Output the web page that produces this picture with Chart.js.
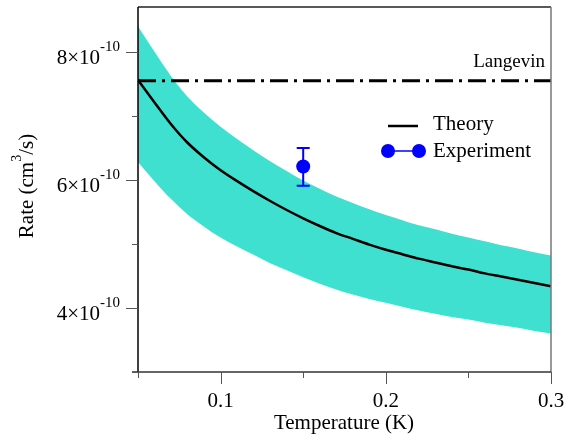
<!DOCTYPE html>
<html>
<head>
<meta charset="utf-8">
<script src="https://cdn.jsdelivr.net/npm/chart.js@4"></script>
<style>
  html, body { margin: 0; padding: 0; background: #fff; }
  canvas { display: block; }
</style>
</head>
<body>
<canvas id="rateChart" width="566" height="445"></canvas>
<script>
// Rate vs temperature, values in units of 1e-10 cm^3/s
const temps = [0.05, 0.06, 0.07, 0.08, 0.09, 0.10, 0.11, 0.12, 0.13, 0.14, 0.15, 0.16, 0.17,
               0.18, 0.19, 0.20, 0.21, 0.22, 0.23, 0.24, 0.25, 0.26, 0.27, 0.28, 0.29, 0.30];
const theory = [7.56, 7.21, 6.87, 6.58, 6.35, 6.15, 5.98, 5.82, 5.67, 5.53, 5.40, 5.28, 5.17,
                5.08, 4.99, 4.91, 4.84, 4.77, 4.71, 4.65, 4.60, 4.54, 4.49, 4.44, 4.39, 4.34];
const bandUpper = [8.40, 8.00, 7.62, 7.30, 7.05, 6.83, 6.64, 6.46, 6.29, 6.14, 5.99, 5.86, 5.74,
                   5.64, 5.54, 5.45, 5.37, 5.29, 5.23, 5.16, 5.10, 5.04, 4.98, 4.93, 4.87, 4.82];
const bandLower = [6.28, 5.98, 5.70, 5.46, 5.27, 5.10, 4.96, 4.83, 4.70, 4.59, 4.48, 4.38, 4.29,
                   4.21, 4.14, 4.08, 4.02, 3.96, 3.91, 3.86, 3.82, 3.77, 3.73, 3.69, 3.64, 3.60];
const langevin = 7.55;
const expTemp = [0.15];
const expRate = [6.21];
const expErrLow = [5.91];
const expErrHigh = [6.50];

const xMajorTicks = [0.1, 0.2, 0.3];
const xTickLabels = ['0.1', '0.2', '0.3'];
const xMinorTicks = [0.05, 0.15, 0.25];
const yMajorTicks = [4, 6, 8];
const yTickMantissa = ['4', '6', '8'];
const yMinorTicks = [3, 5, 7];

const serif = "'Liberation Serif', 'Times New Roman', serif";
const pts = (xs, ys) => xs.map((x, i) => ({ x: x, y: ys[i] }));

// axes, frame, labels, error bars and legend drawn by hand
const decor = {
    id: 'decor',
    afterDatasetsDraw(chart) {
        const ctx = chart.ctx;
        const xs = chart.scales.x, ys = chart.scales.y;

        // error bars
        ctx.save();
        ctx.strokeStyle = '#0000ff';
        ctx.lineWidth = 2;
        expTemp.forEach((t, i) => {
            const px = xs.getPixelForValue(t);
            const top = ys.getPixelForValue(expErrHigh[i]);
            const bot = ys.getPixelForValue(expErrLow[i]);
            ctx.beginPath();
            ctx.moveTo(px, top); ctx.lineTo(px, bot);
            ctx.moveTo(px - 6.5, top); ctx.lineTo(px + 6.5, top);
            ctx.moveTo(px - 6.5, bot); ctx.lineTo(px + 6.5, bot);
            ctx.stroke();
        });
        ctx.restore();
    },
    afterDraw(chart) {
        const ctx = chart.ctx;
        const xs = chart.scales.x, ys = chart.scales.y;
        const a = chart.chartArea;
        ctx.save();

        // frame
        ctx.lineWidth = 1.5;
        ctx.strokeStyle = '#222';
        ctx.beginPath();
        ctx.moveTo(a.left, a.top); ctx.lineTo(a.right, a.top);
        ctx.stroke();
        ctx.strokeStyle = '#777';
        ctx.beginPath();
        ctx.moveTo(a.right, a.top); ctx.lineTo(a.right, a.bottom);
        ctx.stroke();
        ctx.strokeStyle = '#000';
        ctx.beginPath();
        ctx.moveTo(a.left, a.top); ctx.lineTo(a.left, a.bottom);
        ctx.stroke();
        ctx.strokeStyle = '#333';
        ctx.beginPath();
        ctx.moveTo(a.left - 6, a.bottom); ctx.lineTo(a.right, a.bottom);
        ctx.stroke();

        // ticks
        ctx.lineWidth = 1;
        ctx.strokeStyle = '#555';
        ctx.beginPath();
        xMajorTicks.forEach(v => {
            const p = Math.round(xs.getPixelForValue(v)) + 0.5;
            ctx.moveTo(p, a.bottom); ctx.lineTo(p, a.bottom + 12);
        });
        xMinorTicks.forEach(v => {
            const p = Math.round(xs.getPixelForValue(v)) + 0.5;
            ctx.moveTo(p, a.bottom); ctx.lineTo(p, a.bottom + 6);
        });
        yMajorTicks.forEach(v => {
            const p = Math.round(ys.getPixelForValue(v)) + 0.5;
            ctx.moveTo(a.left, p); ctx.lineTo(a.left - 12, p);
        });
        yMinorTicks.forEach(v => {
            const p = Math.round(ys.getPixelForValue(v)) + 0.5;
            ctx.moveTo(a.left, p); ctx.lineTo(a.left - 6, p);
        });
        ctx.stroke();

        ctx.fillStyle = '#000';
        ctx.textBaseline = 'alphabetic';

        // x tick labels
        ctx.font = '21px ' + serif;
        ctx.textAlign = 'center';
        xMajorTicks.forEach((v, i) => {
            ctx.fillText(xTickLabels[i], xs.getPixelForValue(v), 407);
        });

        // y tick labels with exponent
        ctx.textAlign = 'left';
        yMajorTicks.forEach((v, i) => {
            const py = ys.getPixelForValue(v);
            const main = yTickMantissa[i] + '\u00d710';
            ctx.font = '21px ' + serif;
            const w1 = ctx.measureText(main).width;
            ctx.font = '15px ' + serif;
            const w2 = ctx.measureText('-10').width;
            const x0 = 120 - w1 - w2;
            ctx.font = '21px ' + serif;
            ctx.fillText(main, x0, py + 12);
            ctx.font = '15px ' + serif;
            ctx.fillText('-10', x0 + w1, py - 1);
        });

        // axis titles
        ctx.font = '21px ' + serif;
        ctx.textAlign = 'center';
        ctx.fillText('Temperature (K)', 344, 429);

        ctx.save();
        ctx.translate(33, 186);
        ctx.rotate(-Math.PI / 2);
        ctx.textAlign = 'left';
        ctx.font = '21px ' + serif;
        const t1 = 'Rate (cm', t3 = '/s)';
        const w1 = ctx.measureText(t1).width, w3 = ctx.measureText(t3).width;
        ctx.font = '14px ' + serif;
        const w2 = ctx.measureText('3').width;
        let sx = -(w1 + w2 + w3) / 2;
        ctx.font = '21px ' + serif;
        ctx.fillText(t1, sx, 0);
        ctx.font = '14px ' + serif;
        ctx.fillText('3', sx + w1, -12);
        ctx.font = '21px ' + serif;
        ctx.fillText(t3, sx + w1 + w2, 0);
        ctx.restore();

        // Langevin label
        ctx.font = '19px ' + serif;
        ctx.textAlign = 'right';
        ctx.fillText('Langevin', 545, 67);

        // legend
        ctx.textAlign = 'left';
        ctx.font = '21px ' + serif;
        ctx.strokeStyle = '#000';
        ctx.lineWidth = 2.5;
        ctx.beginPath();
        ctx.moveTo(388, 126); ctx.lineTo(418, 126);
        ctx.stroke();
        ctx.fillText('Theory', 433, 130);

        ctx.strokeStyle = '#0000ff';
        ctx.fillStyle = '#0000ff';
        ctx.lineWidth = 1.5;
        ctx.beginPath();
        ctx.moveTo(388, 151); ctx.lineTo(419, 151);
        ctx.stroke();
        [388, 419].forEach(cx => {
            ctx.beginPath();
            ctx.arc(cx, 151, 7, 0, Math.PI * 2);
            ctx.fill();
        });
        ctx.fillStyle = '#000';
        ctx.fillText('Experiment', 433, 157);

        ctx.restore();
    }
};

new Chart(document.getElementById('rateChart'), {
    type: 'scatter',
    data: {
        datasets: [
            {
                label: 'upper',
                data: pts(temps, bandUpper),
                showLine: true,
                borderWidth: 0,
                pointRadius: 0,
                cubicInterpolationMode: 'monotone',
                backgroundColor: '#40e0d0',
                fill: '+1',
                order: 4
            },
            {
                label: 'lower',
                data: pts(temps, bandLower),
                showLine: true,
                borderWidth: 0,
                pointRadius: 0,
                cubicInterpolationMode: 'monotone',
                fill: false,
                order: 5
            },
            {
                label: 'Theory',
                data: pts(temps, theory),
                showLine: true,
                borderColor: '#000',
                borderWidth: 2.5,
                pointRadius: 0,
                cubicInterpolationMode: 'monotone',
                order: 2
            },
            {
                label: 'Langevin',
                data: [{ x: 0.05, y: langevin }, { x: 0.3, y: langevin }],
                showLine: true,
                borderColor: '#000',
                borderWidth: 3,
                borderDash: [18, 6, 3, 6],
                pointRadius: 0,
                order: 3
            },
            {
                label: 'Experiment',
                data: pts(expTemp, expRate),
                showLine: false,
                pointRadius: 7,
                pointBackgroundColor: '#0000ff',
                pointBorderColor: '#0000ff',
                pointBorderWidth: 0,
                order: 1
            }
        ]
    },
    options: {
        responsive: false,
        animation: false,
        layout: { padding: { left: 0, right: 15, top: 3, bottom: 0 } },
        plugins: {
            legend: { display: false },
            tooltip: { enabled: false }
        },
        scales: {
            x: {
                type: 'linear',
                min: 0.05,
                max: 0.3,
                grid: { display: false, drawTicks: false },
                border: { display: false },
                ticks: { display: false },
                afterFit: s => { s.height = 73; }
            },
            y: {
                type: 'linear',
                min: 3,
                max: 8.7,
                grid: { display: false, drawTicks: false },
                border: { display: false },
                ticks: { display: false },
                afterFit: s => { s.width = 138; }
            }
        }
    },
    plugins: [decor]
});
</script>
</body>
</html>
